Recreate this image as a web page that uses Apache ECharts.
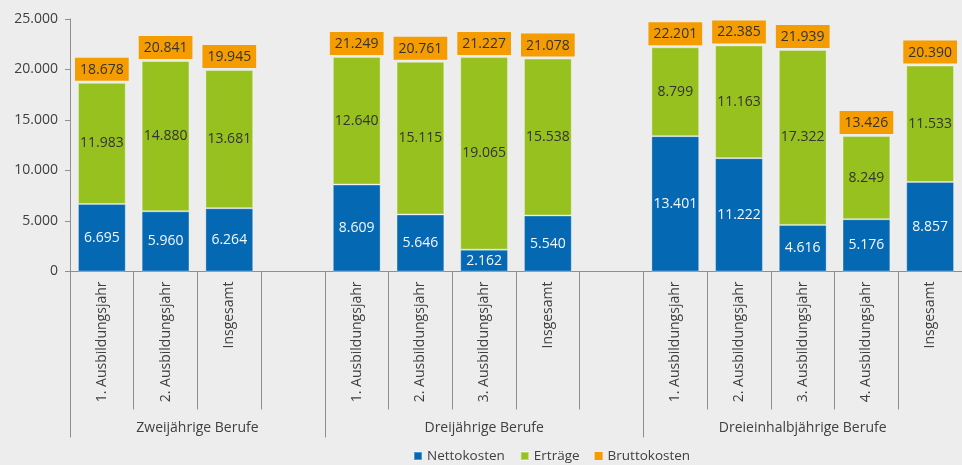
<!DOCTYPE html>
<html>
<head>
<meta charset="utf-8">
<script src="https://cdn.jsdelivr.net/npm/echarts@6/dist/echarts.min.js"></script>
<style>
  html, body { margin: 0; padding: 0; background: #ededed; }
  #chart { width: 962px; height: 465px; }
</style>
</head>
<body>
<div id="chart"></div>
<script>
// Kategorien je Ausbildungsjahr; leere Einträge trennen die Gruppen
const categories = [
  '1. Ausbildungsjahr', '2. Ausbildungsjahr', 'Insgesamt', '',
  '1. Ausbildungsjahr', '2. Ausbildungsjahr', '3. Ausbildungsjahr', 'Insgesamt', '',
  '1. Ausbildungsjahr', '2. Ausbildungsjahr', '3. Ausbildungsjahr', '4. Ausbildungsjahr', 'Insgesamt'
];
const nettokosten = [6695, 5960, 6264, null, 8609, 5646, 2162, 5540, null, 13401, 11222, 4616, 5176, 8857];
const ertraege    = [11983, 14880, 13681, null, 12640, 15115, 19065, 15538, null, 8799, 11163, 17322, 8249, 11533];
const bruttokosten = [18678, 20841, 19945, null, 21249, 20761, 21227, 21078, null, 22201, 22385, 21939, 13426, 20390];

// Berufsgruppen mit Anzahl der Kategorie-Slots
const groupLabels = ['Zweijährige Berufe', 'Dreijährige Berufe', 'Dreieinhalbjährige Berufe'];
const groupSlots = [4, 5, 5];

const yTicks = [0, 5000, 10000, 15000, 20000, 25000];

const fmt = v => String(v).replace(/\B(?=(\d{3})+(?!\d))/g, '.');

// Halbschritt-Achse für die Gruppenbeschriftung (Grenzen + Mitten)
const totalSlots = groupSlots.reduce((a, b) => a + b, 0);
const groupAxisData = new Array(totalSlots * 2 + 1).fill('');
const groupBounds = new Set([0]);
let start = 0;
groupSlots.forEach((span, i) => {
  groupAxisData[2 * start + span] = groupLabels[i];
  start += span;
  groupBounds.add(2 * start);
});

const FONT = '"Open Sans", "Noto Sans", sans-serif';
const AXIS_GREY = '#8f8f8f';
const TEXT = '#404040';

const chart = echarts.init(document.getElementById('chart'));
chart.setOption({
  backgroundColor: '#ededed',
  animation: false,
  textStyle: { fontFamily: FONT },
  grid: { left: 70, top: 19, width: 896, height: 252.5, containLabel: false },
  legend: {
    left: 413, top: 449, padding: 0,
    icon: 'rect', itemWidth: 8, itemHeight: 8, itemGap: 15,
    textStyle: { fontFamily: FONT, fontSize: 13.5, color: TEXT },
    data: [
      { name: 'Nettokosten' },
      { name: 'Erträge', textStyle: { width: 54 } },
      { name: 'Bruttokosten', itemStyle: { color: '#f59c00', opacity: 1 } }
    ]
  },
  xAxis: [
    {
      type: 'category',
      data: categories,
      axisLine: { lineStyle: { color: AXIS_GREY, width: 1 } },
      axisTick: { show: true, interval: 0, length: 138, lineStyle: { color: AXIS_GREY } },
      axisLabel: {
        interval: 0, rotate: 90, margin: 10,
        fontFamily: FONT, fontSize: 14, color: TEXT
      }
    },
    {
      type: 'category',
      data: groupAxisData,
      boundaryGap: false,
      position: 'bottom',
      axisLine: { show: false },
      axisTick: {
        show: true, length: 166,
        interval: i => groupBounds.has(i),
        lineStyle: { color: AXIS_GREY }
      },
      axisLabel: {
        interval: (i, v) => v !== '',
        margin: 150,
        fontFamily: FONT, fontSize: 14, color: TEXT
      }
    }
  ],
  yAxis: {
    type: 'value',
    min: yTicks[0], max: yTicks[yTicks.length - 1], interval: 5000,
    axisLine: { show: true, lineStyle: { color: AXIS_GREY } },
    axisTick: { show: true, length: 5, lineStyle: { color: AXIS_GREY } },
    splitLine: { show: false },
    axisLabel: {
      margin: 12, fontFamily: FONT, fontSize: 14, color: TEXT,
      formatter: v => fmt(v)
    }
  },
  series: [
    {
      name: 'Nettokosten', type: 'bar', stack: 'kosten',
      data: nettokosten, barCategoryGap: '25%',
      itemStyle: { color: '#0568b2', borderColor: 'rgba(255,255,255,0.3)', borderWidth: 1 },
      label: {
        show: true, position: 'inside', color: '#f4f7fb',
        fontFamily: FONT, fontSize: 14,
        formatter: p => fmt(p.value)
      }
    },
    {
      name: 'Erträge', type: 'bar', stack: 'kosten',
      data: ertraege, barCategoryGap: '25%',
      itemStyle: { color: '#97c11f', borderColor: 'rgba(255,255,255,0.35)', borderWidth: 1 },
      label: {
        show: true, position: 'inside', color: '#333',
        fontFamily: FONT, fontSize: 14,
        formatter: p => fmt(p.value)
      }
    },
    {
      name: 'Bruttokosten', type: 'bar',
      data: bruttokosten, barGap: '-100%', barCategoryGap: '25%',
      itemStyle: { color: 'rgba(0,0,0,0)' },
      z: 5,
      label: {
        show: true, position: 'top', distance: 2,
        backgroundColor: '#f59c00', color: '#333',
        padding: [3, 5, 2, 5], lineHeight: 18,
        fontFamily: FONT, fontSize: 14,
        formatter: p => fmt(p.value)
      }
    }
  ]
});
</script>
</body>
</html>
